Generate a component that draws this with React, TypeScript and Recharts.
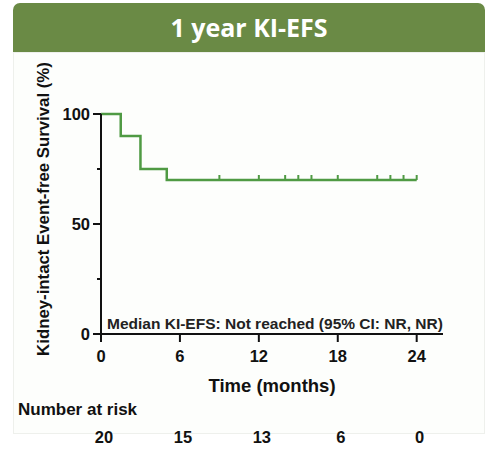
import React from "react";
import { ComposedChart, Line, Scatter, XAxis, YAxis } from "recharts";

const stepTimes = [0, 1.5, 3, 5, 24];
const stepSurvival = [100, 90, 75, 70, 70];
const censorTimes = [9, 12, 14, 15, 16, 18, 21, 22, 23, 24];
const censorSurvival = [70, 70, 70, 70, 70, 70, 70, 70, 70, 70];
const xTicks = [0, 6, 12, 18, 24];
const numberAtRisk = [20, 15, 13, 6, 0];
const yTicks = [0, 25, 50, 75, 100];
const yLabeled = [0, 50, 100];

const kmData = stepTimes.map((t, i) => ({ t, s: stepSurvival[i] }));
const censorData = censorTimes.map((t, i) => ({ t, s: censorSurvival[i] }));

const GREEN = "#4f9a43";
const FONT = "'Liberation Sans', Arial, sans-serif";

const YTick = (props: any) => {
  const { x, y, payload } = props;
  const axisX = x + 11;
  const labeled = yLabeled.includes(payload.value);
  const len = labeled ? 8 : 4;
  return (
    <g>
      <line x1={axisX - len} x2={axisX} y1={y} y2={y} stroke="#111" strokeWidth={2} />
      {labeled && (
        <text x={x} y={y} dy="0.36em" textAnchor="end" fontSize={16.5} fontWeight="bold" fill="#111" fontFamily={FONT}>
          {payload.value}
        </text>
      )}
    </g>
  );
};

const CensorMark = (props: any) => {
  const { cx, cy } = props;
  return <line x1={cx} x2={cx} y1={cy - 5} y2={cy} stroke={GREEN} strokeWidth={2} />;
};

export default function App() {
  return (
    <div style={{ position: "absolute", left: 0, top: 0, width: 490, height: 462, background: "#fff", fontFamily: FONT }}>
      <div style={{ position: "absolute", left: 13, top: 52, width: 470, height: 380, border: "1px solid #eef0ec", background: "#fdfefc" }} />
      <div
        style={{
          position: "absolute",
          left: 13,
          top: 3,
          width: 472,
          height: 49,
          background: "#6a8a45",
          borderRadius: "7px 7px 0 0",
          color: "#fff",
          fontFamily: "'Open Sans', 'Noto Sans', sans-serif",
          fontWeight: 700,
          fontSize: 25,
          lineHeight: "48px",
          textAlign: "center",
        }}
      >
        1 year KI-EFS
      </div>
      <div style={{ position: "absolute", left: 0, top: 0 }}>
        <ComposedChart width={490} height={462} margin={{ top: 114, right: 47, left: 41, bottom: 26 }}>
          <XAxis
            xAxisId="main"
            type="number"
            dataKey="t"
            domain={[0, 26]}
            ticks={xTicks}
            height={62}
            tickSize={8}
            tickMargin={8}
            axisLine={{ stroke: "#111", strokeWidth: 2 }}
            tickLine={{ stroke: "#111", strokeWidth: 2 }}
            tick={{ fontSize: 16.5, fontWeight: "bold", fill: "#111", fontFamily: FONT }}
            label={{ value: "Time (months)", position: "insideBottom", offset: 4, fontSize: 18.5, fontWeight: "bold", fill: "#111", fontFamily: FONT }}
          />
          <XAxis
            xAxisId="risk"
            type="number"
            dataKey="t"
            domain={[0, 26]}
            ticks={xTicks}
            height={40}
            tickSize={0}
            tickMargin={35}
            axisLine={false}
            tickLine={false}
            tickFormatter={(v: number) => String(numberAtRisk[xTicks.indexOf(v)])}
            tick={{ fontSize: 16.5, fontWeight: "bold", fill: "#111", fontFamily: FONT, dx: 3 }}
          />
          <YAxis
            type="number"
            dataKey="s"
            domain={[0, 100]}
            ticks={yTicks}
            width={60}
            tickSize={8}
            tickMargin={3}
            tickLine={false}
            axisLine={{ stroke: "#111", strokeWidth: 2 }}
            tick={<YTick />}
          />
          <Line
            xAxisId="risk"
            data={kmData}
            dataKey="s"
            stroke="none"
            dot={false}
            activeDot={false}
            isAnimationActive={false}
          />
          <Line
            xAxisId="main"
            data={kmData}
            dataKey="s"
            type="stepAfter"
            stroke={GREEN}
            strokeWidth={2.5}
            dot={false}
            isAnimationActive={false}
          />
          <Scatter xAxisId="main" data={censorData} dataKey="s" shape={<CensorMark />} isAnimationActive={false} />
        </ComposedChart>
      </div>
      <svg width={490} height={462} style={{ position: "absolute", left: 0, top: 0, pointerEvents: "none" }}>
        <text
          transform="translate(49 209) rotate(-90)"
          textAnchor="middle"
          fontSize={16.8}
          fontWeight="bold"
          fill="#111"
          fontFamily={FONT}
        >
          Kidney-intact Event-free Survival (%)
        </text>
        <text x={107} y={329} fontSize={15.5} fontWeight="bold" fill="#222" fontFamily={FONT}>
          Median KI-EFS: Not reached (95% CI: NR, NR)
        </text>
        <text x={18} y={415} fontSize={17} fontWeight="bold" fill="#111" fontFamily={FONT}>
          Number at risk
        </text>
      </svg>
    </div>
  );
}
